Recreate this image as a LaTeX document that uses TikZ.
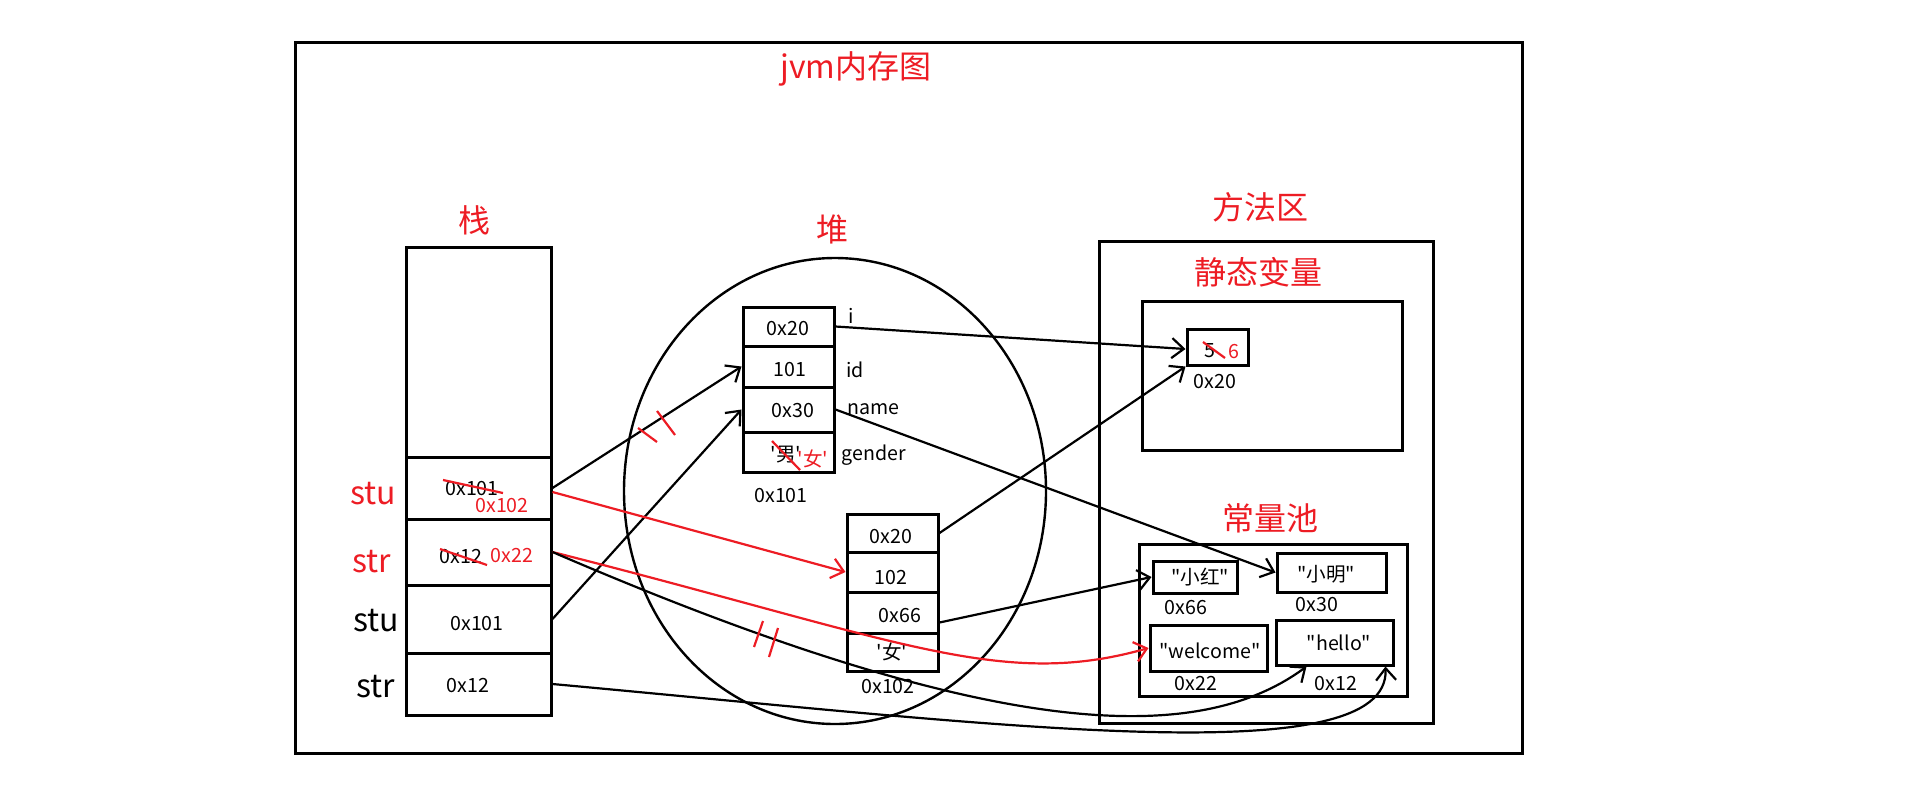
\documentclass[tikz,border=0pt]{standalone}
\usepackage{fontspec}
\setmainfont{Noto Sans CJK SC}
\usetikzlibrary{arrows.meta,shapes.geometric,calc}
\definecolor{pred}{RGB}{237,28,36}
\newcommand{\myq}{\XeTeXglyph\XeTeXcharglyph39\relax}
\newcommand{\mydq}{\XeTeXglyph\XeTeXcharglyph34\relax}
\tikzset{
  cell/.style={draw, line width=1.5pt, inner sep=0pt, minimum width=#1},
  txt/.style={inner sep=0pt, text height=7pt, text depth=0pt, font=\fontsize{9.8}{11}\selectfont},
  big/.style={inner sep=0pt, text height=11.7pt, text depth=0pt, font=\fontsize{16}{18}\selectfont},
  arr/.style={-{Straight Barb[length=6pt,width=10pt]}, line width=1.1pt},
  strike/.style={pred, line width=1.1pt},
}
\begin{document}
\begin{tikzpicture}[x=0.5pt,y=-0.5pt]
\useasboundingbox (0,0) rectangle (1914,809);
\draw[line width=1.5pt] (295,42) rectangle (1522,753);

% titles
\node[big, text=pred] (title) at (856,67) {jvm内存图};
\node[big, text=pred] (tstack) at (474,221) {栈};
\node[big, text=pred] (theap) at (832,230) {堆};
\node[big, text=pred] (tmeth) at (1260,208) {方法区};
\node[big, text=pred] (tstat) at (1258,273) {静态变量};
\node[big, text=pred] (tconst) at (1270,519) {常量池};

% stack
\node[cell=72.5pt, minimum height=105pt] (s0) at (478.5,352) {};
\node[cell=72.5pt, minimum height=31pt] (s1) at (478.5,488) {};
\node[cell=72.5pt, minimum height=33pt] (s2) at (478.5,552) {};
\node[cell=72.5pt, minimum height=34pt] (s3) at (478.5,619) {};
\node[cell=72.5pt, minimum height=31pt] (s4) at (478.5,684) {};
\node[big, text=pred] (ls1) at (373,493) {stu};
\node[big, text=pred] (ls2) at (372,561) {str};
\node[big] (ls3) at (376,620) {stu};
\node[big] (ls4) at (376,686) {str};
\node[txt] (v1) at (472,488) {0x101};
\node[txt, text=pred] (v1n) at (502,505) {0x102};
\node[txt] (v2) at (461,556) {0x12};
\node[txt, text=pred] (v2n) at (512,555) {0x22};
\node[txt] (v3) at (477,623) {0x101};
\node[txt] (v4) at (468,685) {0x12};
\draw[strike] (443,480) -- (503,493);
\draw[strike] (440,549) -- (487,565);

% heap
\node[ellipse, draw, line width=1.2pt, inner sep=0pt, minimum width=211pt, minimum height=233pt] (heap) at (835,491) {};
\node[cell=45.5pt, minimum height=19.5pt] (o1a) at (788.5,326.5) {};
\node[cell=45.5pt, minimum height=20.5pt] (o1b) at (788.5,366.5) {};
\node[cell=45.5pt, minimum height=22.5pt] (o1c) at (788.5,409.5) {};
\node[cell=45.5pt, minimum height=20pt] (o1d) at (788.5,452) {};
\node[txt] at (788,328) {0x20};
\node[txt] at (790,369) {101};
\node[txt] at (793,410) {0x30};
\node[txt] at (786,454) {\myq 男\myq};
\node[txt, text=pred] at (813,459) {\myq 女\myq};
\draw[strike] (772,441) -- (800,470);
\node[txt, anchor=west] at (848,316) {i};
\node[txt, anchor=west] at (846,370) {id};
\node[txt, anchor=west] at (847,407) {name};
\node[txt, anchor=west] at (841,453) {gender};
\node[txt] (a1) at (781,495) {0x101};

\node[cell=45.5pt, minimum height=19pt] (o2a) at (892.5,533) {};
\node[cell=45.5pt, minimum height=20pt] (o2b) at (892.5,572) {};
\node[cell=45.5pt, minimum height=20.5pt] (o2c) at (892.5,612.5) {};
\node[cell=45.5pt, minimum height=19pt] (o2d) at (892.5,652) {};
\node[txt] at (891,536) {0x20};
\node[txt] at (891,577) {102};
\node[txt] at (900,615) {0x66};
\node[txt] at (892,652) {\myq 女\myq};
\node[txt] (a2) at (888,686) {0x102};

% method area
\node[cell=167pt, minimum height=241pt] (meth) at (1266,482) {};
\node[cell=130pt, minimum height=74.5pt] (stat) at (1272,375.5) {};
\node[cell=30.5pt, minimum height=18pt] (vi) at (1217.5,347) {};
\node[txt] at (1210,350) {5};
\node[txt, text=pred] at (1234,351) {6};
\draw[strike] (1203,342) -- (1225,358);
\node[txt] at (1215,381) {0x20};

\node[cell=134pt, minimum height=76pt] (pool) at (1273,620) {};
\node[cell=42pt, minimum height=16pt] (xh) at (1195,577) {};
\node[txt] at (1200,577) {\mydq 小红\mydq};
\node[txt] at (1186,607) {0x66};
\node[cell=54.5pt, minimum height=19.5pt] (xm) at (1331.5,572.5) {};
\node[txt] at (1326,574) {\mydq 小明\mydq};
\node[txt] at (1317,604) {0x30};
\node[cell=58.5pt, minimum height=23pt] (wel) at (1208.5,648) {};
\node[txt] at (1210,651) {\mydq welcome\mydq};
\node[txt] at (1196,683) {0x22};
\node[cell=58.5pt, minimum height=22.5pt] (hel) at (1334.5,642.5) {};
\node[txt] at (1339,643) {\mydq hello\mydq};
\node[txt] at (1336,683) {0x12};

% connectors
\draw[arr] (s1.east) -- (o1b.west);
\draw[arr] (s3.east) -- (o1c.west);
\draw[arr, pred] ([yshift=-2pt]s1.east) -- (o2b.west);
\draw[arr, pred] (s2.east) .. controls (900,640) and (1000,690) .. (wel.west);
\draw[arr] (s2.east) .. controls (1000,745) and (1200,745) .. ([xshift=16pt]hel.south west);
\draw[arr] (s4.east) .. controls (1000,725) and (1390,775) .. ([xshift=-4.5pt]hel.south east);
\draw[arr] (o1a.east) -- ([yshift=-1pt]vi.west);
\draw[arr] (o2a.east) -- (vi.south west);
\draw[arr] (o1c.east) -- (xm.west);
\draw[arr] ([yshift=-5pt]o2c.east) -- (xh.west);

% red tick marks
\draw[strike] (638,428) -- (657,442);
\draw[strike] (657,411) -- (675,435);
\draw[strike] (763,621) -- (754,647);
\draw[strike] (778,628) -- (769,657);
\end{tikzpicture}
\end{document}
